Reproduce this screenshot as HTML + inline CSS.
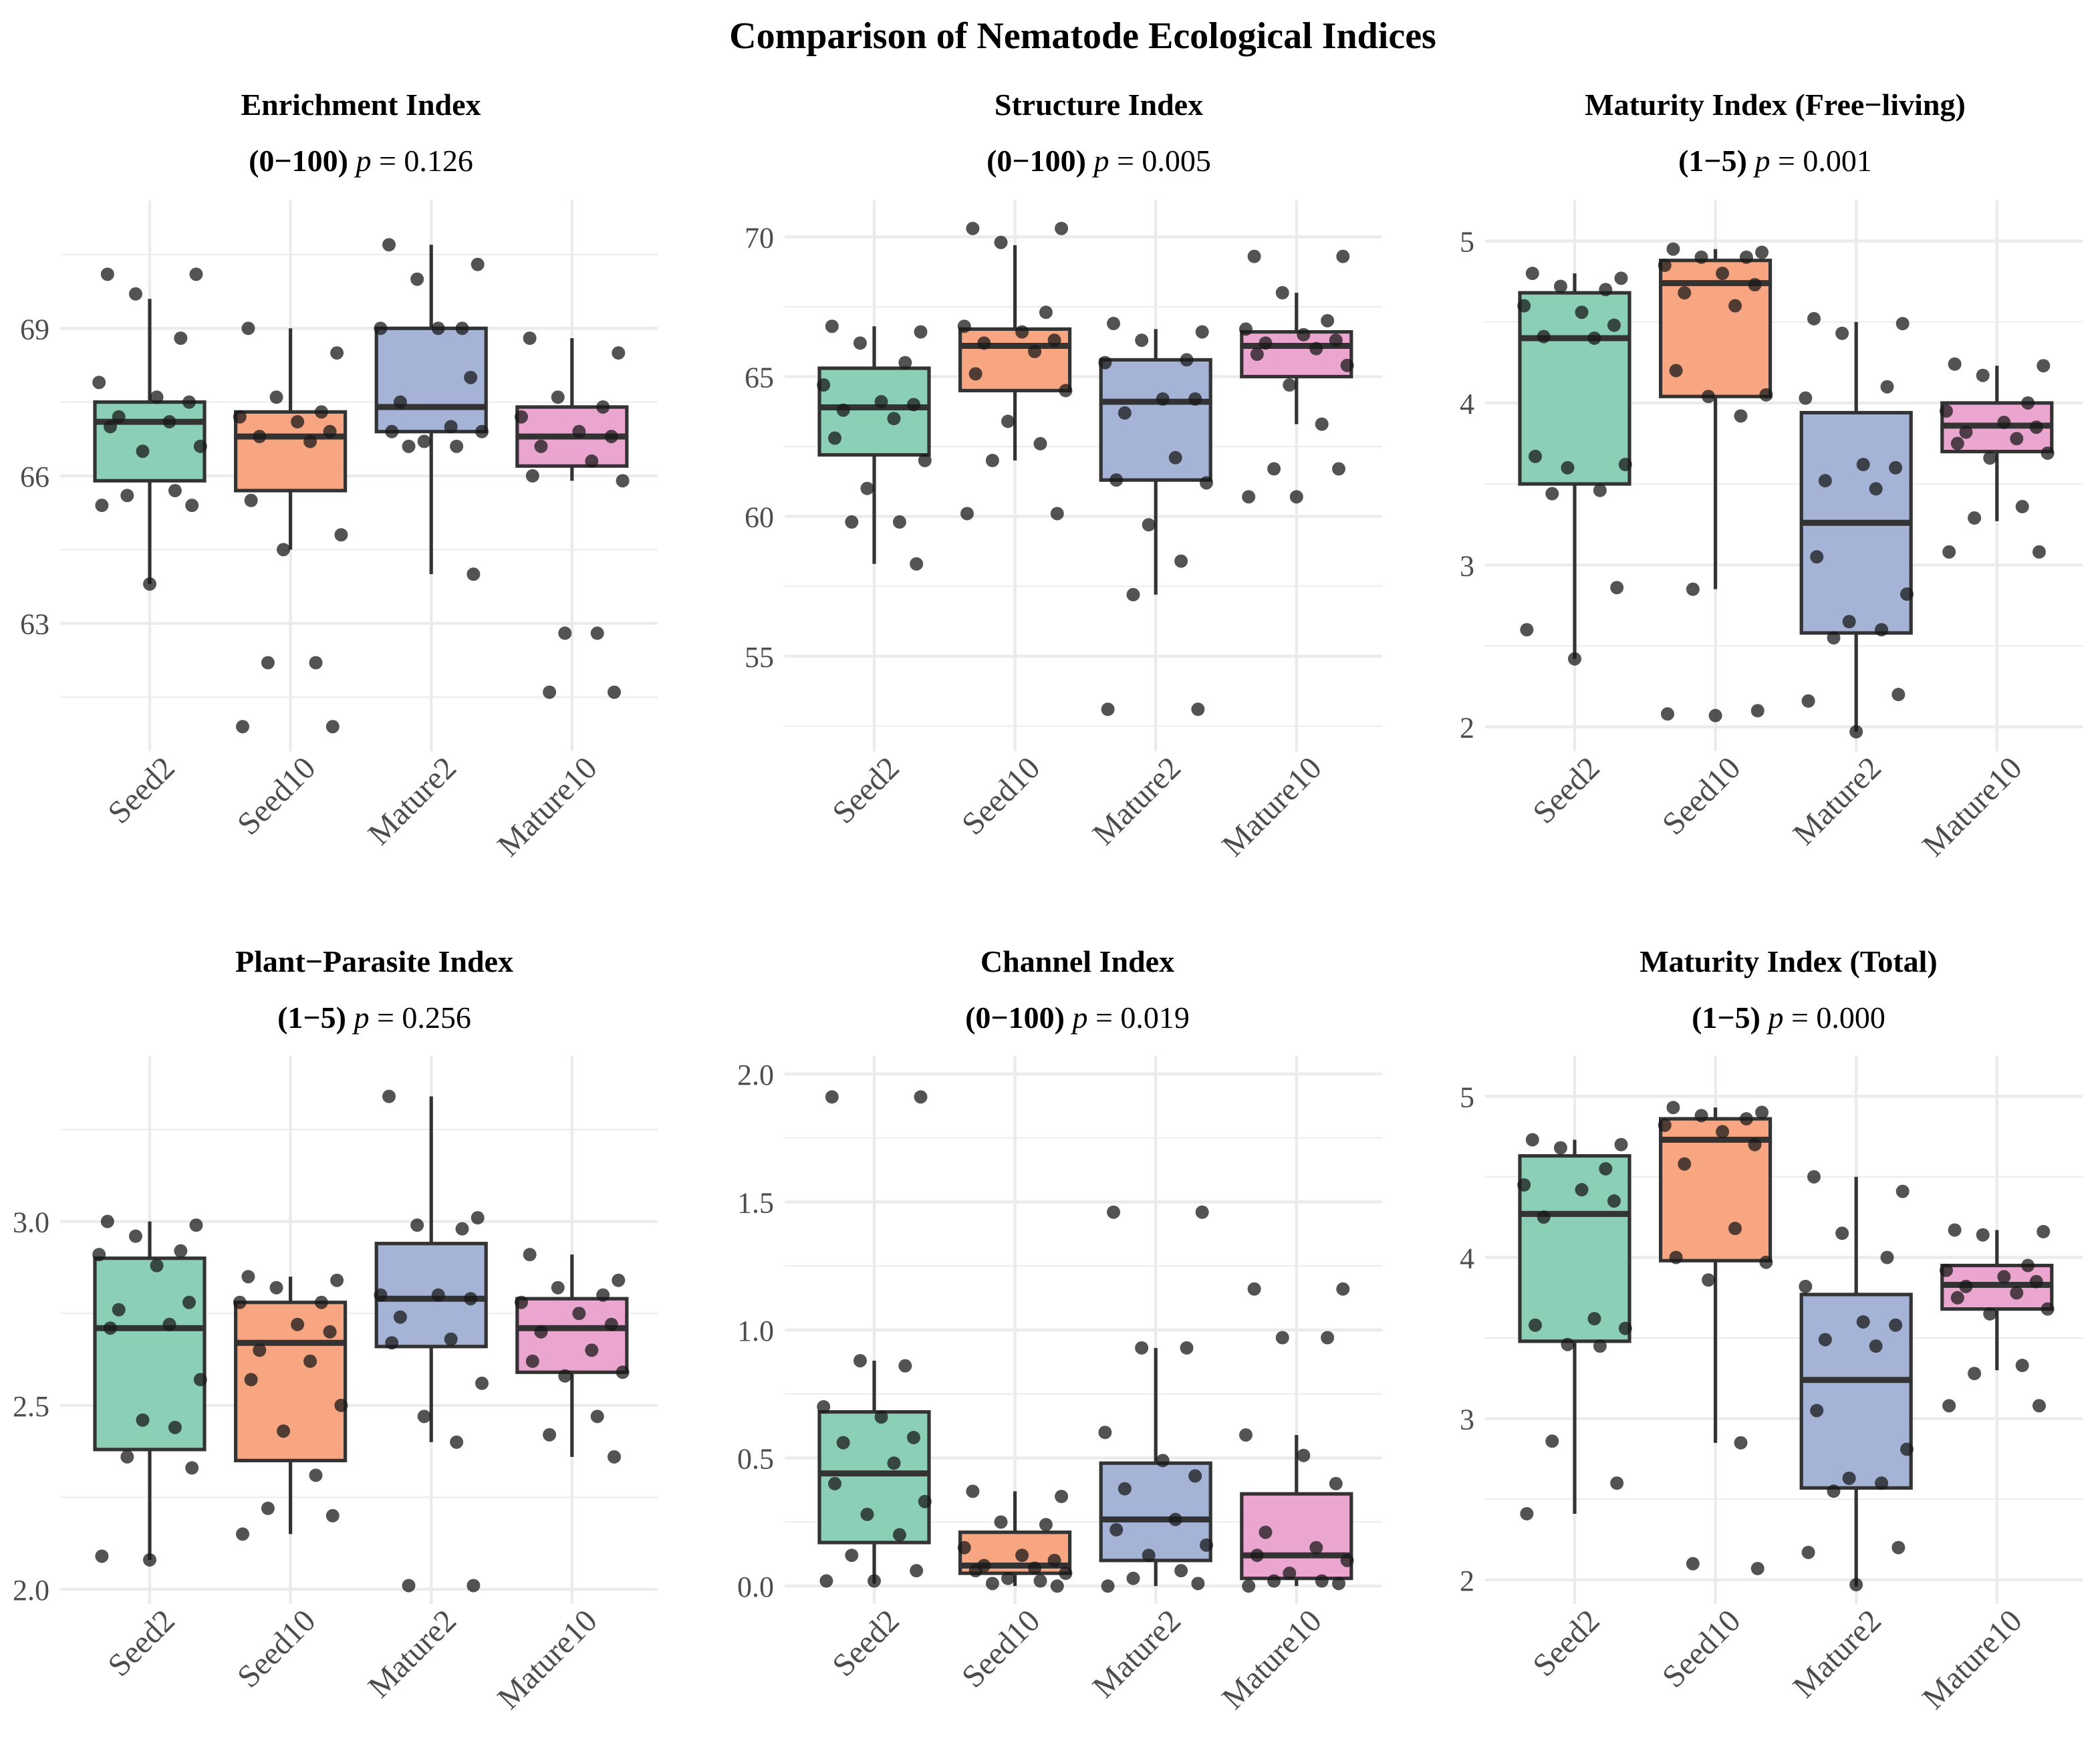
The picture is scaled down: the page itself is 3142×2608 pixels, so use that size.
<!DOCTYPE html>
<html><head><meta charset="utf-8"><style>
html,body{margin:0;padding:0;background:#fff}
svg{display:block;font-family:"Liberation Serif",serif}
</style></head><body>
<svg id="chart" width="3142" height="2608" viewBox="0 0 1571 1304" xmlns="http://www.w3.org/2000/svg">
<text x="810" y="36" text-anchor="middle" font-size="28" font-weight="bold" fill="#000">Comparison of Nematode Ecological Indices</text>
</svg>
<script>
const categories = ["Seed2","Seed10","Mature2","Mature10"];
const titles = ["Enrichment Index","Structure Index","Maturity Index (Free\u2212living)","Plant\u2212Parasite Index","Channel Index","Maturity Index (Total)"];
const ranges = ["(0\u2212100)","(0\u2212100)","(1\u22125)","(1\u22125)","(0\u2212100)","(1\u22125)"];
const pvalues = ["0.126","0.005","0.001","0.256","0.019","0.000"];
const yTicks = [[63,66,69],[55,60,65,70],[2,3,4,5],[2.0,2.5,3.0],[0.0,0.5,1.0,1.5,2.0],[2,3,4,5]];
const yTickLabels = [["63","66","69"],["55","60","65","70"],["2","3","4","5"],["2.0","2.5","3.0"],["0.0","0.5","1.0","1.5","2.0"],["2","3","4","5"]];
const yMinor = [[61.5,64.5,67.5,70.5],[52.5,57.5,62.5,67.5],[2.5,3.5,4.5],[2.25,2.75,3.25],[0.25,0.75,1.25,1.75],[2.5,3.5,4.5]];
const yDomain = [[60.4,71.6],[51.6,71.3],[1.85,5.25],[1.96,3.45],[-0.07,2.07],[1.85,5.25]];
const q1 = [[65.9,65.7,66.9,66.2],[62.2,64.5,61.3,65.0],[3.5,4.04,2.58,3.7],[2.38,2.35,2.66,2.59],[0.17,0.05,0.1,0.03],[3.48,3.98,2.57,3.68]];
const med = [[67.1,66.8,67.4,66.8],[63.9,66.1,64.1,66.1],[4.4,4.74,3.26,3.86],[2.71,2.67,2.79,2.71],[0.44,0.08,0.26,0.12],[4.27,4.73,3.24,3.83]];
const q3 = [[67.5,67.3,69.0,67.4],[65.3,66.7,65.6,66.6],[4.68,4.88,3.94,4.0],[2.9,2.78,2.94,2.79],[0.68,0.21,0.48,0.36],[4.63,4.86,3.77,3.95]];
const whiskLo = [[63.8,64.5,64.0,65.9],[58.3,62.0,57.2,63.3],[2.42,2.85,1.97,3.27],[2.08,2.15,2.40,2.36],[0.01,0.0,0.0,0.0],[2.41,2.85,1.96,3.3]];
const whiskHi = [[69.6,69.0,70.7,68.8],[66.8,69.7,66.7,68.0],[4.8,4.95,4.5,4.23],[3.0,2.85,3.34,2.91],[0.88,0.37,0.93,0.59],[4.73,4.93,4.5,4.17]];
const points = [
 [[70.1,70.1,69.7,68.8,67.9,67.6,67.5,67.2,67.1,67.0,66.6,66.5,65.7,65.6,65.4,65.4,63.8],
  [69.0,68.5,67.6,67.3,67.2,67.1,66.9,66.8,66.7,65.5,64.8,64.5,62.2,62.2,60.9,60.9],
  [70.7,70.3,70.0,69.0,69.0,69.0,68.0,67.5,67.0,66.9,66.9,66.7,66.6,66.6,64.0],
  [68.8,68.5,67.6,67.4,67.2,66.9,66.8,66.6,66.3,66.0,65.9,62.8,62.8,61.6,61.6]],
 [[66.8,66.6,66.2,65.5,64.7,64.1,64.0,63.8,63.5,62.8,62.0,61.0,59.8,59.8,58.3],
  [70.3,70.3,69.8,67.3,66.8,66.6,66.3,66.2,65.9,65.1,64.5,63.4,62.6,62.0,60.1,60.1],
  [66.9,66.6,66.3,65.6,65.5,64.2,64.2,63.7,62.1,61.3,61.2,59.7,58.4,57.2,53.1,53.1],
  [69.3,69.3,68.0,67.0,66.7,66.5,66.3,66.2,66.0,65.8,65.4,64.7,63.3,61.7,61.7,60.7,60.7]],
 [[4.8,4.77,4.72,4.7,4.6,4.56,4.48,4.41,4.4,3.67,3.62,3.6,3.46,3.44,2.86,2.6,2.42],
  [4.95,4.93,4.9,4.9,4.85,4.8,4.73,4.68,4.6,4.2,4.05,4.04,3.92,2.85,2.1,2.08,2.07],
  [4.52,4.49,4.43,4.1,4.03,3.62,3.6,3.52,3.47,3.05,2.82,2.65,2.6,2.55,2.2,2.16,1.97],
  [4.24,4.23,4.17,4.0,3.95,3.88,3.85,3.82,3.78,3.75,3.69,3.66,3.36,3.29,3.08,3.08]],
 [[3.0,2.99,2.96,2.92,2.91,2.88,2.78,2.76,2.72,2.71,2.57,2.46,2.44,2.36,2.33,2.09,2.08],
  [2.85,2.84,2.82,2.78,2.78,2.72,2.7,2.65,2.62,2.57,2.5,2.43,2.31,2.22,2.2,2.15],
  [3.34,3.01,2.99,2.98,2.8,2.8,2.79,2.74,2.68,2.67,2.56,2.47,2.4,2.01,2.01],
  [2.91,2.84,2.82,2.8,2.78,2.75,2.72,2.7,2.65,2.62,2.59,2.58,2.47,2.42,2.36]],
 [[1.91,1.91,0.88,0.86,0.7,0.66,0.58,0.56,0.48,0.4,0.33,0.28,0.2,0.12,0.06,0.02,0.02],
  [0.37,0.35,0.25,0.24,0.15,0.12,0.1,0.08,0.07,0.06,0.05,0.03,0.02,0.01,0.0],
  [1.46,1.46,0.93,0.93,0.6,0.49,0.43,0.38,0.26,0.22,0.16,0.12,0.06,0.03,0.01,0.0],
  [1.16,1.16,0.97,0.97,0.59,0.51,0.4,0.21,0.15,0.12,0.1,0.05,0.02,0.02,0.01,0.0]],
 [[4.73,4.7,4.68,4.55,4.45,4.42,4.35,4.25,3.62,3.58,3.56,3.46,3.45,2.86,2.6,2.41],
  [4.93,4.9,4.88,4.86,4.82,4.78,4.7,4.58,4.18,4.0,3.97,3.86,2.85,2.1,2.07],
  [4.5,4.41,4.15,4.0,3.82,3.6,3.58,3.49,3.45,3.05,2.81,2.63,2.6,2.55,2.2,2.17,1.97],
  [4.17,4.16,4.14,3.95,3.92,3.88,3.85,3.82,3.78,3.75,3.68,3.65,3.33,3.28,3.08,3.08]]
];
const jitter = [-0.3,0.33,-0.1,0.22,-0.36,0.05,0.28,-0.22,0.14,-0.28,0.36,-0.05,0.18,-0.16,0.3,-0.34,0.0];

const fills = ["#8bd0b6","#f8a582","#a5b3d6","#eba6d0"];
const NS = "http://www.w3.org/2000/svg";
const svg = document.getElementById('chart');
function mk(tag, attrs, parent){const e=document.createElementNS(NS,tag);for(const k in attrs)e.setAttribute(k,attrs[k]);(parent||svg).appendChild(e);return e;}

const firstCat = [112,654,1178,112,654,1178];
const rowTop = [150,150,150,790,790,790];
const rowBot = [562,562,562,1200,1200,1200];
const titleX = [270,822,1328,280,806,1338];
const titleY = [86,86,86,727,727,727];
const step = 105.3;

for(let p=0;p<6;p++){
  const g = mk('g',{});
  
  
  const left = firstCat[p]-67, right = firstCat[p]+3*step+64;
  const top = rowTop[p], bot = rowBot[p];
  const [d0,d1] = yDomain[p];
  const y = v => bot - (v-d0)/(d1-d0)*(bot-top);
  const x = i => firstCat[p]+i*step;
  const t1 = mk('text',{x:titleX[p],y:titleY[p],'text-anchor':'middle','font-size':23,'font-weight':'bold'},g);
  
  
  t1.textContent = titles[p];
  const t2 = mk('text',{x:titleX[p],y:titleY[p]+42,'text-anchor':'middle','font-size':23},g);
  
  
  const s1 = mk('tspan',{'font-weight':'bold'},t2); s1.textContent = ranges[p]+"  ";
  const s2 = mk('tspan',{'font-style':'italic'},t2); s2.textContent = "p";
  const s3 = mk('tspan',{},t2); s3.textContent = " = "+pvalues[p];
  yMinor[p].forEach(v=>{const l=mk('line',{x1:left,x2:right,y1:y(v),y2:y(v),stroke:'#ebebeb','stroke-width':1},g);
    
    });
  yTicks[p].forEach((v,i)=>{const l=mk('line',{x1:left,x2:right,y1:y(v),y2:y(v),stroke:'#ebebeb','stroke-width':2.2},g);
    
    
    const t=mk('text',{x:left-8,y:y(v)+8,'text-anchor':'end','font-size':22,fill:'#4d4d4d'},g);
    
    
    t.textContent=yTickLabels[p][i];});
  categories.forEach((c,i)=>{const l=mk('line',{x1:x(i),x2:x(i),y1:top,y2:bot,stroke:'#ebebeb','stroke-width':2.2},g);
    
    
    const t=mk('text',{x:x(i)+20,y:bot+14,'text-anchor':'end','font-size':24,fill:'#4d4d4d',transform:`rotate(-45 ${x(i)+20} ${bot+14})`},g);
    
    
    t.textContent=c;});
  categories.forEach((c,i)=>{
    const bw=41;
    const w1=mk('line',{x1:x(i),x2:x(i),y1:y(whiskHi[p][i]),y2:y(q3[p][i]),stroke:'#333','stroke-width':2.6},g);
    
    
    const w2=mk('line',{x1:x(i),x2:x(i),y1:y(q1[p][i]),y2:y(whiskLo[p][i]),stroke:'#333','stroke-width':2.6},g);
    
    
    const r=mk('rect',{x:x(i)-bw,y:y(q3[p][i]),width:2*bw,height:y(q1[p][i])-y(q3[p][i]),fill:fills[i],stroke:'#333','stroke-width':2.6},g);
    
    
    const m=mk('line',{x1:x(i)-bw,x2:x(i)+bw,y1:y(med[p][i]),y2:y(med[p][i]),stroke:'#333','stroke-width':4.5},g);
    
    
  });
  categories.forEach((c,i)=>{
    points[p][i].forEach((v,k)=>{
      const cc=mk('circle',{cx:x(i)+jitter[k%jitter.length]*step,cy:y(v),r:5,fill:'#1a1a1a','fill-opacity':0.75},g);
      
      
    });
  });
}
</script>
</body></html>
